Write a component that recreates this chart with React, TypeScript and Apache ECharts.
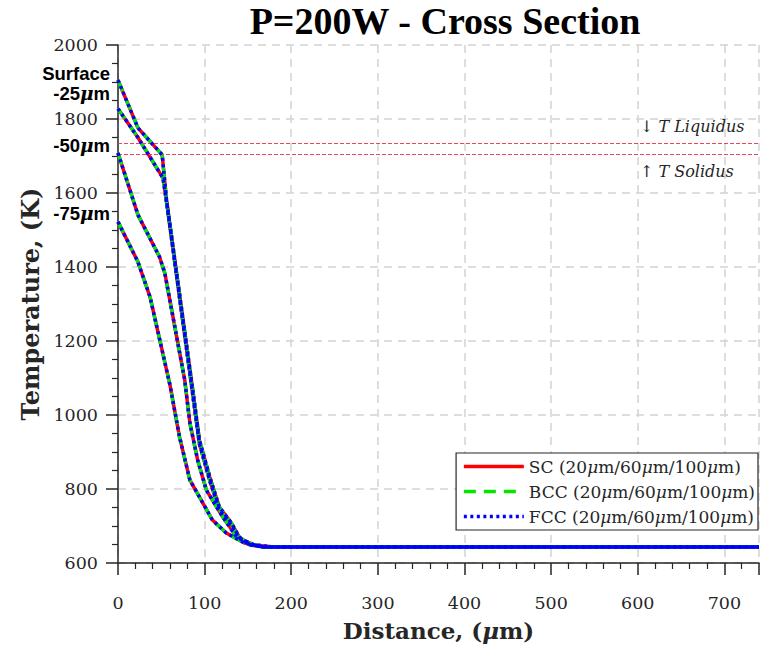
import React, { useEffect, useRef } from 'react';
import * as echarts from 'echarts';

// ---- data ----
const structureNames = ['SC (20μm/60μm/100μm)', 'BCC (20μm/60μm/100μm)', 'FCC (20μm/60μm/100μm)'];
const depthNames = ['Surface', '-25μm', '-50μm', '-75μm'];

const distSurface = [0, 23, 51, 56, 86, 94, 106, 117, 131, 140, 152, 169, 200, 300, 400, 500, 600, 700, 740];
const tempSurface = [1905, 1776, 1703, 1581, 1073, 932, 832, 751, 708, 670, 650, 643, 643, 643, 643, 643, 643, 643, 643];

const dist25 = [0, 23, 52, 57, 86, 94, 106, 117, 131, 140, 152, 169, 200, 300, 400, 500, 600, 700, 740];
const temp25 = [1828, 1750, 1640, 1560, 1060, 922, 822, 744, 703, 667, 649, 643, 643, 643, 643, 643, 643, 643, 643];

const dist50 = [0, 23, 48, 54, 77, 83, 92, 102, 121, 137, 157, 180, 200, 300, 400, 500, 600, 700, 740];
const temp50 = [1708, 1541, 1427, 1384, 1095, 978, 878, 797, 724, 670, 649, 643, 643, 643, 643, 643, 643, 643, 643];

const dist75 = [0, 23, 37, 60, 71, 83, 98, 109, 125, 146, 169, 200, 300, 400, 500, 600, 700, 740];
const temp75 = [1522, 1414, 1319, 1081, 941, 824, 762, 716, 681, 654, 643, 643, 643, 643, 643, 643, 643, 643];

const tLiquidus = 1735;
const tSolidus = 1705;

const xMin = 0;
const xMax = 740;
const xInterval = 100;
const yMin = 600;
const yMax = 2000;
const yInterval = 200;

const depthDist = [distSurface, dist25, dist50, dist75];
const depthTemp = [tempSurface, temp25, temp50, temp75];

const SERIF = '"DejaVu Serif", serif';
const TIMES = '"Liberation Serif", serif';
const SANS = '"Liberation Sans", Arial, sans-serif';
const INK = '#262626';

const lineStyles: any[] = [
  { color: '#ff0000', type: 'solid' },
  { color: '#00e600', type: [12, 8] },
  { color: '#0000ff', type: [3, 3.5] },
];

export default function App() {
  const ref = useRef<HTMLDivElement>(null);
  useEffect(() => {
    if (!ref.current) return;
    const chart = echarts.init(ref.current, null, { renderer: 'svg' });

    const series: any[] = [];
    structureNames.forEach((sName, si) => {
      depthDist.forEach((dArr, di) => {
        const s: any = {
          name: sName,
          type: 'line',
          symbol: 'none',
          showSymbol: false,
          data: dArr.map((d, k) => [d, depthTemp[di][k]]),
          lineStyle: { width: 3.5, color: lineStyles[si].color, type: lineStyles[si].type, cap: 'butt' },
          itemStyle: { color: lineStyles[si].color },
          z: 3 + si,
        };
        if (si === 0 && di === 0) {
          s.markLine = {
            silent: true,
            symbol: ['none', 'none'],
            label: { show: false },
            lineStyle: { color: '#e8455f', type: [4, 2], width: 1 },
            data: [{ yAxis: tLiquidus }, { yAxis: tSolidus }],
          };
        }
        series.push(s);
      });
    });

    const muRich = { fontStyle: 'italic', fontFamily: SERIF };
    const labelY = [73, 93, 145, 213];

    chart.setOption({
      animation: false,
      backgroundColor: '#ffffff',
      grid: { left: 118, top: 45, right: 0, bottom: 87, containLabel: false },
      xAxis: {
        type: 'value',
        min: xMin,
        max: xMax,
        interval: xInterval,
        name: 'Distance, ({i|μ}m)',
        nameLocation: 'middle',
        nameGap: 56,
        nameTextStyle: {
          fontFamily: SERIF,
          fontWeight: 'bold',
          fontSize: 23,
          color: INK,
          rich: { i: { ...muRich, fontWeight: 'bold', fontSize: 23, color: INK } },
        },
        axisLine: { show: true, lineStyle: { color: INK, width: 1.5 } },
        axisTick: { show: true, length: 12, lineStyle: { color: INK, width: 1.5 } },
        minorTick: { show: true, splitNumber: 5, length: 6, lineStyle: { color: INK, width: 1.2 } },
        axisLabel: {
          fontFamily: SERIF,
          fontSize: 17.5,
          color: INK,
          margin: 31,
          formatter: (v: number) => (v % xInterval === 0 ? String(v) : ''),
        },
        splitLine: { show: true, lineStyle: { color: '#d3d3d3', type: [8, 6], width: 1.5 } },
      },
      yAxis: {
        type: 'value',
        min: yMin,
        max: yMax,
        interval: yInterval,
        name: 'Temperature, (K)',
        nameLocation: 'middle',
        nameGap: 74,
        nameTextStyle: { fontFamily: SERIF, fontWeight: 'bold', fontSize: 24, color: INK },
        axisLine: { show: true, lineStyle: { color: INK, width: 1.5 } },
        axisTick: { show: true, length: 12, lineStyle: { color: INK, width: 1.5 } },
        minorTick: { show: true, splitNumber: 4, length: 6, lineStyle: { color: INK, width: 1.2 } },
        axisLabel: {
          fontFamily: SERIF,
          fontSize: 17.5,
          color: INK,
          margin: 20,
          lineHeight: 16,
          formatter: (v: number) => String(v),
        },
        splitLine: { show: true, lineStyle: { color: '#d3d3d3', type: [8, 6], width: 1.5 } },
      },
      legend: {
        data: structureNames,
        orient: 'vertical',
        right: 4,
        top: 453,
        itemWidth: 60,
        itemHeight: 14,
        itemGap: 8,
        padding: [5, 3, 5, 6],
        borderColor: INK,
        borderWidth: 1.2,
        backgroundColor: '#ffffff',
        itemStyle: { opacity: 0 },
        lineStyle: { width: 3.5 },
        formatter: (name: string) => name.replace(/μ/g, '{i|μ}'),
        textStyle: {
          fontFamily: SERIF,
          fontSize: 17,
          color: INK,
          lineHeight: 17,
          rich: { i: { ...muRich, fontSize: 17, color: INK } },
        },
      },
      graphic: [
        {
          type: 'text',
          x: 445,
          y: 21,
          style: {
            text: 'P=200W - Cross Section',
            fontFamily: TIMES,
            fontWeight: 'bold',
            fontSize: 38,
            fill: '#000',
            textAlign: 'center',
            textVerticalAlign: 'middle',
          },
          z: 10,
        },
        ...depthNames.map((n, i) => ({
          type: 'text',
          x: 110,
          y: labelY[i],
          style: {
            text: n.replace(/μ/g, '{i|μ}'),
            fontFamily: SANS,
            fontWeight: 'bold',
            fontSize: 18.5,
            lineHeight: 16,
            fill: '#000',
            textAlign: 'right',
            textVerticalAlign: 'middle',
            rich: { i: { ...muRich, fontWeight: 'bold', fontSize: 18.5, lineHeight: 16, fill: '#000' } },
          },
          z: 10,
        })),
        {
          type: 'text',
          x: 640,
          y: 126,
          style: {
            text: '↓ {i|T Liquidus}',
            fontFamily: SERIF,
            fontSize: 16,
            fill: INK,
            textVerticalAlign: 'middle',
            rich: { i: { ...muRich, fontSize: 16, fill: INK } },
          },
          z: 10,
        },
        {
          type: 'text',
          x: 640,
          y: 171,
          style: {
            text: '↑ {i|T Solidus}',
            fontFamily: SERIF,
            fontSize: 16,
            fill: INK,
            textVerticalAlign: 'middle',
            rich: { i: { ...muRich, fontSize: 16, fill: INK } },
          },
          z: 10,
        },
      ],
      series,
    });
    return () => chart.dispose();
  }, []);

  return (
    <div
      ref={ref}
      style={{ position: 'fixed', left: 0, top: 0, width: 762, height: 650, background: '#fff' }}
    />
  );
}
